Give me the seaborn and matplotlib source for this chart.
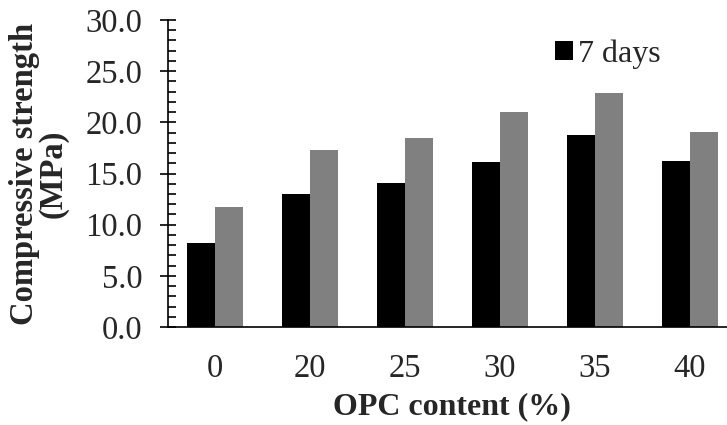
import matplotlib
matplotlib.use("Agg")
import matplotlib.pyplot as plt
import seaborn as sns
import pandas as pd
from matplotlib.ticker import MultipleLocator, FormatStrFormatter
from matplotlib.patches import Patch

categories = ["0", "20", "25", "30", "35", "40"]
days7 = [8.2, 13.0, 14.1, 16.1, 18.8, 16.2]
days28 = [11.7, 17.3, 18.5, 21.0, 22.9, 19.1]
series_names = ["7 days", "28 days"]
colors = ["#000000", "#808080"]

df = pd.DataFrame({
    "OPC": categories * 2,
    "strength": days7 + days28,
    "age": [series_names[0]] * len(categories) + [series_names[1]] * len(categories),
})

sns.set_style("ticks")
plt.rcParams["font.family"] = ["Liberation Serif", "DejaVu Serif"]

fig = plt.figure(figsize=(7.27, 4.25), dpi=100)
ax = fig.add_axes([167.5 / 727, 1 - 327 / 425, 569.5 / 727, 307 / 425])

sns.barplot(data=df, x="OPC", y="strength", hue="age", order=categories,
            hue_order=series_names, palette=colors, width=0.59, gap=0,
            saturation=1, linewidth=0, ax=ax, legend=False)

ax.set_xlim(-0.5, 5.5)
ax.set_ylim(0, 30)
ax.yaxis.set_major_locator(MultipleLocator(5))
ax.yaxis.set_minor_locator(MultipleLocator(1))
ax.yaxis.set_major_formatter(FormatStrFormatter("%.1f"))
ax.tick_params(axis="y", which="major", direction="inout", length=12, width=1.2,
               labelsize=23.5, color="black", pad=12)
ax.tick_params(axis="y", which="minor", direction="in", length=6, width=1.2, color="black")
ax.tick_params(axis="x", length=0, labelsize=23.5, pad=19)
for s in ["top", "right"]:
    ax.spines[s].set_visible(False)
for s in ["left", "bottom"]:
    ax.spines[s].set_linewidth(1.2)
    ax.spines[s].set_color("black")

ax.set_xlabel("OPC content (%)", fontsize=23, fontweight="bold", labelpad=6)
ax.set_ylabel("Compressive strength\n(MPa)", fontsize=23.5, fontweight="bold",
              labelpad=12, linespacing=0.9)

handles = [Patch(facecolor=colors[0], edgecolor="none", label=series_names[0])]
ax.legend(handles=handles, loc="upper left", bbox_to_anchor=(0.642, 1.01),
          frameon=False, fontsize=23, handlelength=0.55, handleheight=0.55,
          handletextpad=0.15, borderpad=0.2)

fig.savefig("out.png", dpi=100)
